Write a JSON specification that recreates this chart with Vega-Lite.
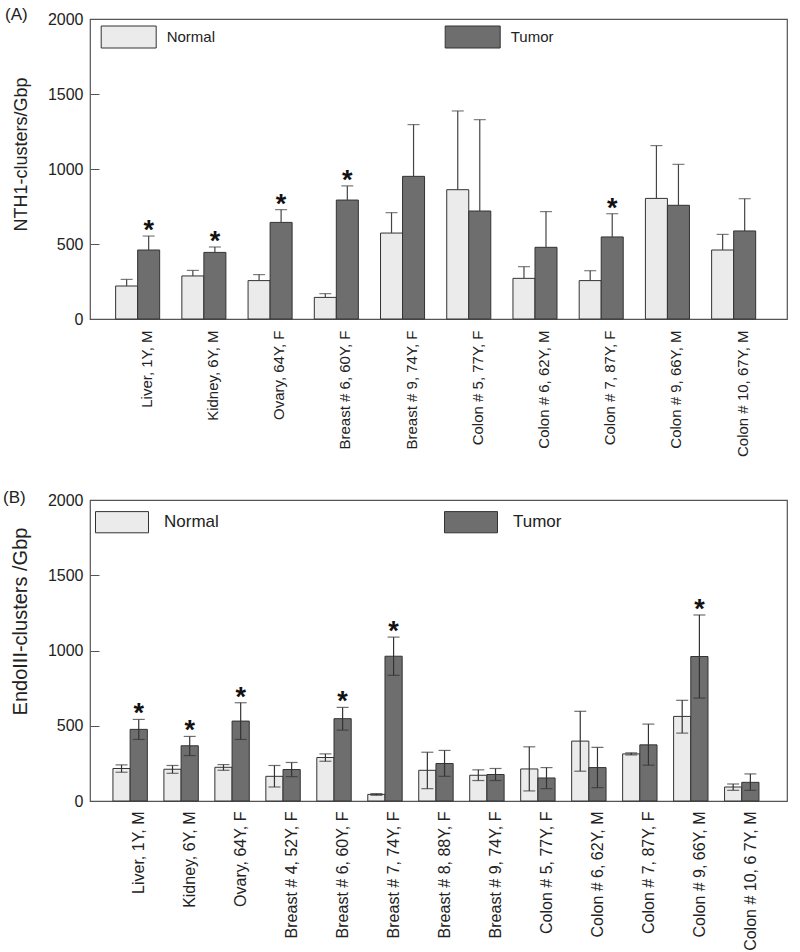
{
  "$schema": "https://vega.github.io/schema/vega-lite/v6.json",
  "background": "white",
  "padding": {"left": 2, "top": 5, "right": 5, "bottom": 0},
  "config": {
    "font": "Liberation Sans",
    "view": {"stroke": "#555", "strokeWidth": 1.2},
    "axis": {"labelFont": "Liberation Sans", "titleFont": "Liberation Sans", "labelColor": "#222", "titleColor": "#222", "titleFontWeight": "normal", "domain": false, "grid": false},
    "legend": {"labelFont": "Liberation Sans", "labelColor": "#222"}
  },
  "datasets": {
    "a": [
      {"sample": "Liver, 1Y, M", "group": "Normal", "value": 220, "upper": 264, "sig": false},
      {"sample": "Liver, 1Y, M", "group": "Tumor", "value": 460, "upper": 553, "sig": true},
      {"sample": "Kidney, 6Y, M", "group": "Normal", "value": 287, "upper": 324, "sig": false},
      {"sample": "Kidney, 6Y, M", "group": "Tumor", "value": 444, "upper": 480, "sig": true},
      {"sample": "Ovary, 64Y, F", "group": "Normal", "value": 256, "upper": 296, "sig": false},
      {"sample": "Ovary, 64Y, F", "group": "Tumor", "value": 644, "upper": 729, "sig": true},
      {"sample": "Breast # 6, 60Y, F", "group": "Normal", "value": 144, "upper": 169, "sig": false},
      {"sample": "Breast # 6, 60Y, F", "group": "Tumor", "value": 793, "upper": 887, "sig": true},
      {"sample": "Breast # 9, 74Y, F", "group": "Normal", "value": 573, "upper": 709, "sig": false},
      {"sample": "Breast # 9, 74Y, F", "group": "Tumor", "value": 951, "upper": 1296, "sig": false},
      {"sample": "Colon # 5, 77Y, F", "group": "Normal", "value": 862, "upper": 1387, "sig": false},
      {"sample": "Colon # 5, 77Y, F", "group": "Tumor", "value": 720, "upper": 1329, "sig": false},
      {"sample": "Colon # 6, 62Y, M", "group": "Normal", "value": 271, "upper": 349, "sig": false},
      {"sample": "Colon # 6, 62Y, M", "group": "Tumor", "value": 478, "upper": 716, "sig": false},
      {"sample": "Colon # 7, 87Y, F", "group": "Normal", "value": 256, "upper": 322, "sig": false},
      {"sample": "Colon # 7, 87Y, F", "group": "Tumor", "value": 547, "upper": 702, "sig": true},
      {"sample": "Colon # 9, 66Y, M", "group": "Normal", "value": 804, "upper": 1156, "sig": false},
      {"sample": "Colon # 9, 66Y, M", "group": "Tumor", "value": 758, "upper": 1031, "sig": false},
      {"sample": "Colon # 10, 67Y, M", "group": "Normal", "value": 460, "upper": 564, "sig": false},
      {"sample": "Colon # 10, 67Y, M", "group": "Tumor", "value": 587, "upper": 802, "sig": false}
    ],
    "b": [
      {"sample": "Liver, 1Y, M", "group": "Normal", "value": 216, "lower": 191, "upper": 240, "sig": false},
      {"sample": "Liver, 1Y, M", "group": "Tumor", "value": 476, "lower": 409, "upper": 542, "sig": true},
      {"sample": "Kidney, 6Y, M", "group": "Normal", "value": 211, "lower": 184, "upper": 236, "sig": false},
      {"sample": "Kidney, 6Y, M", "group": "Tumor", "value": 367, "lower": 302, "upper": 429, "sig": true},
      {"sample": "Ovary, 64Y, F", "group": "Normal", "value": 224, "lower": 204, "upper": 242, "sig": false},
      {"sample": "Ovary, 64Y, F", "group": "Tumor", "value": 531, "lower": 409, "upper": 653, "sig": true},
      {"sample": "Breast # 4, 52Y, F", "group": "Normal", "value": 164, "lower": 93, "upper": 236, "sig": false},
      {"sample": "Breast # 4, 52Y, F", "group": "Tumor", "value": 209, "lower": 162, "upper": 256, "sig": false},
      {"sample": "Breast # 6, 60Y, F", "group": "Normal", "value": 289, "lower": 264, "upper": 313, "sig": false},
      {"sample": "Breast # 6, 60Y, F", "group": "Tumor", "value": 547, "lower": 471, "upper": 622, "sig": true},
      {"sample": "Breast # 7, 74Y, F", "group": "Normal", "value": 44, "lower": 38, "upper": 49, "sig": false},
      {"sample": "Breast # 7, 74Y, F", "group": "Tumor", "value": 962, "lower": 835, "upper": 1089, "sig": true},
      {"sample": "Breast # 8, 88Y, F", "group": "Normal", "value": 204, "lower": 82, "upper": 324, "sig": false},
      {"sample": "Breast # 8, 88Y, F", "group": "Tumor", "value": 249, "lower": 164, "upper": 336, "sig": false},
      {"sample": "Breast # 9, 74Y, F", "group": "Normal", "value": 171, "lower": 136, "upper": 207, "sig": false},
      {"sample": "Breast # 9, 74Y, F", "group": "Tumor", "value": 176, "lower": 136, "upper": 216, "sig": false},
      {"sample": "Colon # 5, 77Y, F", "group": "Normal", "value": 213, "lower": 67, "upper": 360, "sig": false},
      {"sample": "Colon # 5, 77Y, F", "group": "Tumor", "value": 153, "lower": 82, "upper": 222, "sig": false},
      {"sample": "Colon # 6, 62Y, M", "group": "Normal", "value": 398, "lower": 198, "upper": 596, "sig": false},
      {"sample": "Colon # 6, 62Y, M", "group": "Tumor", "value": 222, "lower": 89, "upper": 356, "sig": false},
      {"sample": "Colon # 7, 87Y, F", "group": "Normal", "value": 313, "lower": 306, "upper": 320, "sig": false},
      {"sample": "Colon # 7, 87Y, F", "group": "Tumor", "value": 373, "lower": 238, "upper": 511, "sig": false},
      {"sample": "Colon # 9, 66Y, M", "group": "Normal", "value": 562, "lower": 451, "upper": 669, "sig": false},
      {"sample": "Colon # 9, 66Y, M", "group": "Tumor", "value": 960, "lower": 684, "upper": 1236, "sig": true},
      {"sample": "Colon # 10, 6 7Y, M", "group": "Normal", "value": 93, "lower": 71, "upper": 113, "sig": false},
      {"sample": "Colon # 10, 6 7Y, M", "group": "Tumor", "value": 124, "lower": 71, "upper": 180, "sig": false}
    ]
  },
  "spacing": 30,
  "resolve": {"scale": {"color": "independent", "x": "independent", "y": "independent", "xOffset": "independent"}, "legend": {"color": "independent"}},
  "vconcat": [
    {
      "width": 697,
      "height": 300,
      "title": {"text": "(A)", "anchor": "start", "frame": "bounds", "offset": -15, "dx": -7, "fontSize": 17, "fontWeight": "normal", "font": "Liberation Sans", "color": "#222"},
      "data": {"name": "a"},
      "encoding": {
        "x": {"field": "sample", "type": "nominal", "sort": null, "title": null,
              "scale": {"paddingInner": 0.335, "paddingOuter": 0.43, "align": 0.45},
              "axis": {"labelAngle": -90, "ticks": false, "labelPadding": 11, "labelOffset": 9, "labelFontSize": 15}},
        "xOffset": {"field": "group", "type": "nominal", "sort": ["Normal", "Tumor"], "scale": {"paddingInner": 0, "paddingOuter": 0}}
      },
      "layer": [
        {
          "mark": {"type": "bar", "stroke": "#333", "strokeWidth": 1},
          "encoding": {
            "y": {"field": "value", "type": "quantitative", "title": "NTH1-clusters/Gbp",
                  "scale": {"domain": [0, 2000], "nice": false},
                  "axis": {"values": [0, 500, 1000, 1500, 2000], "format": "d", "tickSize": -9, "tickColor": "#555", "labelPadding": 16, "labelFontSize": 16, "titleFontSize": 18, "titleX": -60, "titleY": 135}},
            "color": {"field": "group", "type": "nominal",
                      "scale": {"domain": ["Normal", "Tumor"], "range": ["#ebebeb", "#6e6e6e"]},
                      "legend": {"orient": "none", "legendX": 10.7, "legendY": -10, "direction": "horizontal", "columns": 2, "columnPadding": 227, "symbolType": "M-1,-0.4L1,-0.4L1,0.4L-1,0.4Z", "symbolSize": 3025, "symbolStrokeColor": "#333", "symbolStrokeWidth": 1, "symbolOpacity": 1, "labelFontSize": 15, "labelOffset": 10, "title": null, "padding": 0}}
          }
        },
        {
          "mark": {"type": "rule", "color": "#444", "strokeWidth": 1.2},
          "encoding": {"y": {"field": "value", "type": "quantitative"}, "y2": {"field": "upper"}}
        },
        {
          "mark": {"type": "tick", "color": "#444", "size": 12, "thickness": 1.2},
          "encoding": {"y": {"field": "upper", "type": "quantitative"}}
        },
        {
          "transform": [{"filter": "datum.sig"}],
          "mark": {"type": "text", "text": "*", "fontSize": 27, "fontWeight": "bold", "baseline": "alphabetic", "dy": 3, "color": "#111"},
          "encoding": {"y": {"field": "upper", "type": "quantitative"}}
        }
      ]
    },
    {
      "width": 697,
      "height": 301,
      "title": {"text": "(B)", "anchor": "start", "frame": "bounds", "offset": -15, "dx": -7, "fontSize": 17, "fontWeight": "normal", "font": "Liberation Sans", "color": "#222"},
      "data": {"name": "b"},
      "encoding": {
        "x": {"field": "sample", "type": "nominal", "sort": null, "title": null,
              "scale": {"paddingInner": 0.325, "paddingOuter": 0.5, "align": 0.45},
              "axis": {"labelAngle": -90, "ticks": false, "labelPadding": 10, "labelOffset": 9, "labelFontSize": 16}},
        "xOffset": {"field": "group", "type": "nominal", "sort": ["Normal", "Tumor"], "scale": {"paddingInner": 0, "paddingOuter": 0}}
      },
      "layer": [
        {
          "mark": {"type": "bar", "stroke": "#333", "strokeWidth": 1},
          "encoding": {
            "y": {"field": "value", "type": "quantitative", "title": "EndoIII-clusters /Gbp",
                  "scale": {"domain": [0, 2000], "nice": false},
                  "axis": {"values": [0, 500, 1000, 1500, 2000], "format": "d", "tickSize": -9, "tickColor": "#555", "labelPadding": 16, "labelFontSize": 16, "titleFontSize": 20, "titleX": -60, "titleY": 121}},
            "color": {"field": "group", "type": "nominal",
                      "scale": {"domain": ["Normal", "Tumor"], "range": ["#ebebeb", "#6e6e6e"]},
                      "legend": {"orient": "none", "legendX": 5, "legendY": -5, "direction": "horizontal", "columns": 2, "columnPadding": 223, "symbolType": "M-1,-0.4L1,-0.4L1,0.4L-1,0.4Z", "symbolSize": 2809, "symbolStrokeColor": "#333", "symbolStrokeWidth": 1, "symbolOpacity": 1, "labelFontSize": 17, "labelOffset": 15, "title": null, "padding": 0}}
          }
        },
        {
          "mark": {"type": "rule", "color": "#333", "strokeWidth": 1.2},
          "encoding": {"y": {"field": "lower", "type": "quantitative"}, "y2": {"field": "upper"}}
        },
        {
          "mark": {"type": "tick", "color": "#333", "size": 12, "thickness": 1.2},
          "encoding": {"y": {"field": "upper", "type": "quantitative"}}
        },
        {
          "mark": {"type": "tick", "color": "#333", "size": 12, "thickness": 1.2},
          "encoding": {"y": {"field": "lower", "type": "quantitative"}}
        },
        {
          "transform": [{"filter": "datum.sig"}],
          "mark": {"type": "text", "text": "*", "fontSize": 27, "fontWeight": "bold", "baseline": "alphabetic", "dy": 3, "color": "#111"},
          "encoding": {"y": {"field": "upper", "type": "quantitative"}}
        }
      ]
    }
  ]
}
